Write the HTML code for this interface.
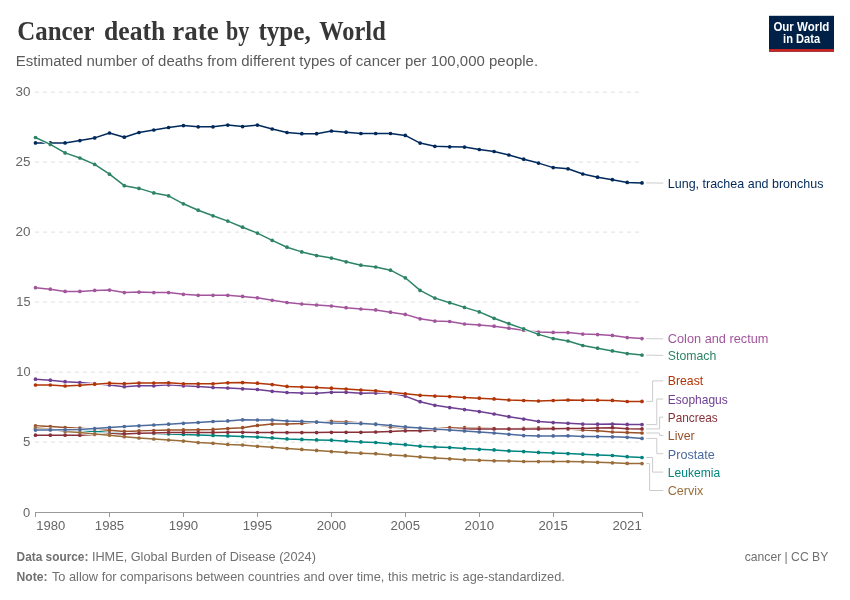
<!DOCTYPE html>
<html lang="en"><head><meta charset="utf-8"><title>Cancer death rate by type, World</title>
<style>
html,body{margin:0;padding:0;background:#fff;}
body{width:850px;height:600px;overflow:hidden;position:relative;font-family:"Liberation Sans",sans-serif;}
svg{position:absolute;left:0;top:0;}
svg text{font-family:"Liberation Sans",sans-serif;}
.title{font-family:"Liberation Serif",serif;font-weight:700;fill:#373737;}
</style></head><body>
<svg width="850" height="600" viewBox="0 0 850 600">
<rect x="0" y="0" width="850" height="600" fill="#ffffff"/>
<text class="title" y="40.2" font-size="26.5"><tspan x="17.3" textLength="76.9" lengthAdjust="spacingAndGlyphs">Cancer</tspan> <tspan x="104.1" textLength="61.2" lengthAdjust="spacingAndGlyphs">death</tspan> <tspan x="172.3" textLength="46.5" lengthAdjust="spacingAndGlyphs">rate</tspan> <tspan x="226.1" textLength="23.3" lengthAdjust="spacingAndGlyphs">by</tspan> <tspan x="258.4" textLength="52.3" lengthAdjust="spacingAndGlyphs">type,</tspan> <tspan x="319.3" textLength="66.4" lengthAdjust="spacingAndGlyphs">World</tspan></text>
<text x="15.8" y="66.3" font-size="14" fill="#5b5b5b" textLength="522.3" lengthAdjust="spacingAndGlyphs">Estimated number of deaths from different types of cancer per 100,000 people.</text>
<g><rect x="769" y="15.8" width="65" height="35.9" fill="#002147"/><rect x="769" y="49.1" width="65" height="2.6" fill="#CE261E"/><text x="801.4" y="30.8" font-size="12" font-weight="700" fill="#fff" text-anchor="middle" textLength="56" lengthAdjust="spacingAndGlyphs">Our World</text><text x="801.6" y="42.8" font-size="12" font-weight="700" fill="#fff" text-anchor="middle" textLength="37" lengthAdjust="spacingAndGlyphs">in Data</text></g>
<line x1="35" x2="642" y1="442.1" y2="442.1" stroke="#e0e0e0" stroke-width="1" stroke-dasharray="4,4"/>
<text x="23.1" y="446" font-size="12.5" fill="#666" textLength="7.4" lengthAdjust="spacingAndGlyphs">5</text>
<line x1="35" x2="642" y1="372.1" y2="372.1" stroke="#e0e0e0" stroke-width="1" stroke-dasharray="4,4"/>
<text x="16.3" y="376" font-size="12.5" fill="#666" textLength="14.2" lengthAdjust="spacingAndGlyphs">10</text>
<line x1="35" x2="642" y1="302.1" y2="302.1" stroke="#e0e0e0" stroke-width="1" stroke-dasharray="4,4"/>
<text x="16.3" y="306" font-size="12.5" fill="#666" textLength="14.2" lengthAdjust="spacingAndGlyphs">15</text>
<line x1="35" x2="642" y1="232.1" y2="232.1" stroke="#e0e0e0" stroke-width="1" stroke-dasharray="4,4"/>
<text x="15.5" y="236" font-size="12.5" fill="#666" textLength="15.0" lengthAdjust="spacingAndGlyphs">20</text>
<line x1="35" x2="642" y1="162.1" y2="162.1" stroke="#e0e0e0" stroke-width="1" stroke-dasharray="4,4"/>
<text x="15.5" y="166" font-size="12.5" fill="#666" textLength="15.0" lengthAdjust="spacingAndGlyphs">25</text>
<line x1="35" x2="642" y1="92.1" y2="92.1" stroke="#e0e0e0" stroke-width="1" stroke-dasharray="4,4"/>
<text x="15.5" y="96" font-size="12.5" fill="#666" textLength="15.0" lengthAdjust="spacingAndGlyphs">30</text>
<text x="23.1" y="516.5" font-size="12.5" fill="#666" textLength="7.2" lengthAdjust="spacingAndGlyphs">0</text>
<line x1="35" x2="642.5" y1="512.5" y2="512.5" stroke="#999" stroke-width="1"/>
<line x1="35.5" x2="35.5" y1="512.5" y2="517" stroke="#999" stroke-width="1"/>
<text x="36.3" y="530.1" font-size="12.5" fill="#666" textLength="29.0" lengthAdjust="spacingAndGlyphs">1980</text>
<line x1="109.5" x2="109.5" y1="512.5" y2="517" stroke="#999" stroke-width="1"/>
<text x="94.8" y="530.1" font-size="12.5" fill="#666" textLength="29.4" lengthAdjust="spacingAndGlyphs">1985</text>
<line x1="183.5" x2="183.5" y1="512.5" y2="517" stroke="#999" stroke-width="1"/>
<text x="168.7" y="530.1" font-size="12.5" fill="#666" textLength="29.4" lengthAdjust="spacingAndGlyphs">1990</text>
<line x1="257.5" x2="257.5" y1="512.5" y2="517" stroke="#999" stroke-width="1"/>
<text x="242.7" y="530.1" font-size="12.5" fill="#666" textLength="29.4" lengthAdjust="spacingAndGlyphs">1995</text>
<line x1="331.5" x2="331.5" y1="512.5" y2="517" stroke="#999" stroke-width="1"/>
<text x="316.7" y="530.1" font-size="12.5" fill="#666" textLength="29.4" lengthAdjust="spacingAndGlyphs">2000</text>
<line x1="405.5" x2="405.5" y1="512.5" y2="517" stroke="#999" stroke-width="1"/>
<text x="390.6" y="530.1" font-size="12.5" fill="#666" textLength="29.4" lengthAdjust="spacingAndGlyphs">2005</text>
<line x1="479.5" x2="479.5" y1="512.5" y2="517" stroke="#999" stroke-width="1"/>
<text x="464.6" y="530.1" font-size="12.5" fill="#666" textLength="29.4" lengthAdjust="spacingAndGlyphs">2010</text>
<line x1="553.5" x2="553.5" y1="512.5" y2="517" stroke="#999" stroke-width="1"/>
<text x="538.5" y="530.1" font-size="12.5" fill="#666" textLength="29.4" lengthAdjust="spacingAndGlyphs">2015</text>
<line x1="642.5" x2="642.5" y1="512.5" y2="517" stroke="#999" stroke-width="1"/>
<text x="612.4" y="530.1" font-size="12.5" fill="#666" textLength="29.4" lengthAdjust="spacingAndGlyphs">2021</text>
<g fill="#00295B" stroke="none"><polyline points="35.5,142.9 50.3,142.9 65.1,142.9 79.9,140.6 94.7,137.9 109.5,133.0 124.3,137.2 139.0,132.5 153.8,130.0 168.6,127.5 183.4,125.6 198.2,126.8 213.0,126.8 227.8,125.1 242.6,126.6 257.4,125.1 272.2,129.0 287.0,132.5 301.8,133.7 316.6,133.7 331.4,131.0 346.1,132.2 360.9,133.5 375.7,133.5 390.5,133.5 405.3,135.4 420.1,143.1 434.9,146.3 449.7,146.8 464.5,147.1 479.3,149.5 494.1,151.5 508.9,155.0 523.7,159.2 538.5,163.1 553.2,167.6 568.0,168.8 582.8,174.0 597.6,177.2 612.4,179.7 627.2,182.4 642.0,182.9" fill="none" stroke="#fff" stroke-width="3" stroke-linejoin="round" stroke-linecap="butt"/><polyline points="35.5,142.9 50.3,142.9 65.1,142.9 79.9,140.6 94.7,137.9 109.5,133.0 124.3,137.2 139.0,132.5 153.8,130.0 168.6,127.5 183.4,125.6 198.2,126.8 213.0,126.8 227.8,125.1 242.6,126.6 257.4,125.1 272.2,129.0 287.0,132.5 301.8,133.7 316.6,133.7 331.4,131.0 346.1,132.2 360.9,133.5 375.7,133.5 390.5,133.5 405.3,135.4 420.1,143.1 434.9,146.3 449.7,146.8 464.5,147.1 479.3,149.5 494.1,151.5 508.9,155.0 523.7,159.2 538.5,163.1 553.2,167.6 568.0,168.8 582.8,174.0 597.6,177.2 612.4,179.7 627.2,182.4 642.0,182.9" fill="none" stroke="#00295B" stroke-width="1.5" stroke-linejoin="round" stroke-linecap="round"/><circle cx="35.5" cy="142.9" r="1.85"/><circle cx="50.3" cy="142.9" r="1.85"/><circle cx="65.1" cy="142.9" r="1.85"/><circle cx="79.9" cy="140.6" r="1.85"/><circle cx="94.7" cy="137.9" r="1.85"/><circle cx="109.5" cy="133.0" r="1.85"/><circle cx="124.3" cy="137.2" r="1.85"/><circle cx="139.0" cy="132.5" r="1.85"/><circle cx="153.8" cy="130.0" r="1.85"/><circle cx="168.6" cy="127.5" r="1.85"/><circle cx="183.4" cy="125.6" r="1.85"/><circle cx="198.2" cy="126.8" r="1.85"/><circle cx="213.0" cy="126.8" r="1.85"/><circle cx="227.8" cy="125.1" r="1.85"/><circle cx="242.6" cy="126.6" r="1.85"/><circle cx="257.4" cy="125.1" r="1.85"/><circle cx="272.2" cy="129.0" r="1.85"/><circle cx="287.0" cy="132.5" r="1.85"/><circle cx="301.8" cy="133.7" r="1.85"/><circle cx="316.6" cy="133.7" r="1.85"/><circle cx="331.4" cy="131.0" r="1.85"/><circle cx="346.1" cy="132.2" r="1.85"/><circle cx="360.9" cy="133.5" r="1.85"/><circle cx="375.7" cy="133.5" r="1.85"/><circle cx="390.5" cy="133.5" r="1.85"/><circle cx="405.3" cy="135.4" r="1.85"/><circle cx="420.1" cy="143.1" r="1.85"/><circle cx="434.9" cy="146.3" r="1.85"/><circle cx="449.7" cy="146.8" r="1.85"/><circle cx="464.5" cy="147.1" r="1.85"/><circle cx="479.3" cy="149.5" r="1.85"/><circle cx="494.1" cy="151.5" r="1.85"/><circle cx="508.9" cy="155.0" r="1.85"/><circle cx="523.7" cy="159.2" r="1.85"/><circle cx="538.5" cy="163.1" r="1.85"/><circle cx="553.2" cy="167.6" r="1.85"/><circle cx="568.0" cy="168.8" r="1.85"/><circle cx="582.8" cy="174.0" r="1.85"/><circle cx="597.6" cy="177.2" r="1.85"/><circle cx="612.4" cy="179.7" r="1.85"/><circle cx="627.2" cy="182.4" r="1.85"/><circle cx="642.0" cy="182.9" r="1.85"/></g>
<g fill="#A2559C" stroke="none"><polyline points="35.5,287.7 50.3,289.2 65.1,291.4 79.9,291.4 94.7,290.4 109.5,290.1 124.3,292.6 139.0,292.1 153.8,292.6 168.6,292.6 183.4,294.3 198.2,295.3 213.0,295.3 227.8,295.3 242.6,296.4 257.4,297.8 272.2,300.3 287.0,302.5 301.8,304.0 316.6,305.0 331.4,306.0 346.1,307.7 360.9,309.0 375.7,309.9 390.5,312.2 405.3,314.4 420.1,318.8 434.9,321.1 449.7,321.5 464.5,324.0 479.3,325.0 494.1,326.2 508.9,328.2 523.7,330.2 538.5,332.1 553.2,332.4 568.0,332.6 582.8,334.1 597.6,334.6 612.4,335.4 627.2,337.6 642.0,338.6" fill="none" stroke="#fff" stroke-width="3" stroke-linejoin="round" stroke-linecap="butt"/><polyline points="35.5,287.7 50.3,289.2 65.1,291.4 79.9,291.4 94.7,290.4 109.5,290.1 124.3,292.6 139.0,292.1 153.8,292.6 168.6,292.6 183.4,294.3 198.2,295.3 213.0,295.3 227.8,295.3 242.6,296.4 257.4,297.8 272.2,300.3 287.0,302.5 301.8,304.0 316.6,305.0 331.4,306.0 346.1,307.7 360.9,309.0 375.7,309.9 390.5,312.2 405.3,314.4 420.1,318.8 434.9,321.1 449.7,321.5 464.5,324.0 479.3,325.0 494.1,326.2 508.9,328.2 523.7,330.2 538.5,332.1 553.2,332.4 568.0,332.6 582.8,334.1 597.6,334.6 612.4,335.4 627.2,337.6 642.0,338.6" fill="none" stroke="#A2559C" stroke-width="1.5" stroke-linejoin="round" stroke-linecap="round"/><circle cx="35.5" cy="287.7" r="1.85"/><circle cx="50.3" cy="289.2" r="1.85"/><circle cx="65.1" cy="291.4" r="1.85"/><circle cx="79.9" cy="291.4" r="1.85"/><circle cx="94.7" cy="290.4" r="1.85"/><circle cx="109.5" cy="290.1" r="1.85"/><circle cx="124.3" cy="292.6" r="1.85"/><circle cx="139.0" cy="292.1" r="1.85"/><circle cx="153.8" cy="292.6" r="1.85"/><circle cx="168.6" cy="292.6" r="1.85"/><circle cx="183.4" cy="294.3" r="1.85"/><circle cx="198.2" cy="295.3" r="1.85"/><circle cx="213.0" cy="295.3" r="1.85"/><circle cx="227.8" cy="295.3" r="1.85"/><circle cx="242.6" cy="296.4" r="1.85"/><circle cx="257.4" cy="297.8" r="1.85"/><circle cx="272.2" cy="300.3" r="1.85"/><circle cx="287.0" cy="302.5" r="1.85"/><circle cx="301.8" cy="304.0" r="1.85"/><circle cx="316.6" cy="305.0" r="1.85"/><circle cx="331.4" cy="306.0" r="1.85"/><circle cx="346.1" cy="307.7" r="1.85"/><circle cx="360.9" cy="309.0" r="1.85"/><circle cx="375.7" cy="309.9" r="1.85"/><circle cx="390.5" cy="312.2" r="1.85"/><circle cx="405.3" cy="314.4" r="1.85"/><circle cx="420.1" cy="318.8" r="1.85"/><circle cx="434.9" cy="321.1" r="1.85"/><circle cx="449.7" cy="321.5" r="1.85"/><circle cx="464.5" cy="324.0" r="1.85"/><circle cx="479.3" cy="325.0" r="1.85"/><circle cx="494.1" cy="326.2" r="1.85"/><circle cx="508.9" cy="328.2" r="1.85"/><circle cx="523.7" cy="330.2" r="1.85"/><circle cx="538.5" cy="332.1" r="1.85"/><circle cx="553.2" cy="332.4" r="1.85"/><circle cx="568.0" cy="332.6" r="1.85"/><circle cx="582.8" cy="334.1" r="1.85"/><circle cx="597.6" cy="334.6" r="1.85"/><circle cx="612.4" cy="335.4" r="1.85"/><circle cx="627.2" cy="337.6" r="1.85"/><circle cx="642.0" cy="338.6" r="1.85"/></g>
<g fill="#2C8465" stroke="none"><polyline points="35.5,137.5 50.3,144.4 65.1,152.9 79.9,158.0 94.7,164.4 109.5,174.2 124.3,185.7 139.0,188.4 153.8,192.9 168.6,195.8 183.4,203.8 198.2,210.2 213.0,215.8 227.8,221.1 242.6,227.2 257.4,233.1 272.2,240.3 287.0,247.2 301.8,251.9 316.6,255.6 331.4,258.1 346.1,261.8 360.9,265.2 375.7,267.0 390.5,270.2 405.3,277.8 420.1,290.4 434.9,298.1 449.7,302.7 464.5,307.4 479.3,311.9 494.1,318.3 508.9,323.7 523.7,328.9 538.5,334.4 553.2,338.6 568.0,341.0 582.8,345.5 597.6,348.2 612.4,350.9 627.2,353.6 642.0,355.1" fill="none" stroke="#fff" stroke-width="3" stroke-linejoin="round" stroke-linecap="butt"/><polyline points="35.5,137.5 50.3,144.4 65.1,152.9 79.9,158.0 94.7,164.4 109.5,174.2 124.3,185.7 139.0,188.4 153.8,192.9 168.6,195.8 183.4,203.8 198.2,210.2 213.0,215.8 227.8,221.1 242.6,227.2 257.4,233.1 272.2,240.3 287.0,247.2 301.8,251.9 316.6,255.6 331.4,258.1 346.1,261.8 360.9,265.2 375.7,267.0 390.5,270.2 405.3,277.8 420.1,290.4 434.9,298.1 449.7,302.7 464.5,307.4 479.3,311.9 494.1,318.3 508.9,323.7 523.7,328.9 538.5,334.4 553.2,338.6 568.0,341.0 582.8,345.5 597.6,348.2 612.4,350.9 627.2,353.6 642.0,355.1" fill="none" stroke="#2C8465" stroke-width="1.5" stroke-linejoin="round" stroke-linecap="round"/><circle cx="35.5" cy="137.5" r="1.85"/><circle cx="50.3" cy="144.4" r="1.85"/><circle cx="65.1" cy="152.9" r="1.85"/><circle cx="79.9" cy="158.0" r="1.85"/><circle cx="94.7" cy="164.4" r="1.85"/><circle cx="109.5" cy="174.2" r="1.85"/><circle cx="124.3" cy="185.7" r="1.85"/><circle cx="139.0" cy="188.4" r="1.85"/><circle cx="153.8" cy="192.9" r="1.85"/><circle cx="168.6" cy="195.8" r="1.85"/><circle cx="183.4" cy="203.8" r="1.85"/><circle cx="198.2" cy="210.2" r="1.85"/><circle cx="213.0" cy="215.8" r="1.85"/><circle cx="227.8" cy="221.1" r="1.85"/><circle cx="242.6" cy="227.2" r="1.85"/><circle cx="257.4" cy="233.1" r="1.85"/><circle cx="272.2" cy="240.3" r="1.85"/><circle cx="287.0" cy="247.2" r="1.85"/><circle cx="301.8" cy="251.9" r="1.85"/><circle cx="316.6" cy="255.6" r="1.85"/><circle cx="331.4" cy="258.1" r="1.85"/><circle cx="346.1" cy="261.8" r="1.85"/><circle cx="360.9" cy="265.2" r="1.85"/><circle cx="375.7" cy="267.0" r="1.85"/><circle cx="390.5" cy="270.2" r="1.85"/><circle cx="405.3" cy="277.8" r="1.85"/><circle cx="420.1" cy="290.4" r="1.85"/><circle cx="434.9" cy="298.1" r="1.85"/><circle cx="449.7" cy="302.7" r="1.85"/><circle cx="464.5" cy="307.4" r="1.85"/><circle cx="479.3" cy="311.9" r="1.85"/><circle cx="494.1" cy="318.3" r="1.85"/><circle cx="508.9" cy="323.7" r="1.85"/><circle cx="523.7" cy="328.9" r="1.85"/><circle cx="538.5" cy="334.4" r="1.85"/><circle cx="553.2" cy="338.6" r="1.85"/><circle cx="568.0" cy="341.0" r="1.85"/><circle cx="582.8" cy="345.5" r="1.85"/><circle cx="597.6" cy="348.2" r="1.85"/><circle cx="612.4" cy="350.9" r="1.85"/><circle cx="627.2" cy="353.6" r="1.85"/><circle cx="642.0" cy="355.1" r="1.85"/></g>
<g fill="#6D3E91" stroke="none"><polyline points="35.5,379.2 50.3,380.2 65.1,381.7 79.9,382.5 94.7,383.7 109.5,385.0 124.3,386.7 139.0,385.8 153.8,385.8 168.6,384.8 183.4,385.8 198.2,386.5 213.0,387.5 227.8,388.0 242.6,388.8 257.4,389.5 272.2,391.3 287.0,392.5 301.8,393.1 316.6,393.3 331.4,392.3 346.1,392.3 360.9,393.3 375.7,393.1 390.5,393.1 405.3,396.1 420.1,401.7 434.9,405.3 449.7,407.6 464.5,409.6 479.3,411.6 494.1,414.0 508.9,416.7 523.7,419.1 538.5,421.4 553.2,422.6 568.0,423.3 582.8,424.1 597.6,424.2 612.4,424.1 627.2,424.4 642.0,424.6" fill="none" stroke="#fff" stroke-width="3" stroke-linejoin="round" stroke-linecap="butt"/><polyline points="35.5,379.2 50.3,380.2 65.1,381.7 79.9,382.5 94.7,383.7 109.5,385.0 124.3,386.7 139.0,385.8 153.8,385.8 168.6,384.8 183.4,385.8 198.2,386.5 213.0,387.5 227.8,388.0 242.6,388.8 257.4,389.5 272.2,391.3 287.0,392.5 301.8,393.1 316.6,393.3 331.4,392.3 346.1,392.3 360.9,393.3 375.7,393.1 390.5,393.1 405.3,396.1 420.1,401.7 434.9,405.3 449.7,407.6 464.5,409.6 479.3,411.6 494.1,414.0 508.9,416.7 523.7,419.1 538.5,421.4 553.2,422.6 568.0,423.3 582.8,424.1 597.6,424.2 612.4,424.1 627.2,424.4 642.0,424.6" fill="none" stroke="#6D3E91" stroke-width="1.5" stroke-linejoin="round" stroke-linecap="round"/><circle cx="35.5" cy="379.2" r="1.85"/><circle cx="50.3" cy="380.2" r="1.85"/><circle cx="65.1" cy="381.7" r="1.85"/><circle cx="79.9" cy="382.5" r="1.85"/><circle cx="94.7" cy="383.7" r="1.85"/><circle cx="109.5" cy="385.0" r="1.85"/><circle cx="124.3" cy="386.7" r="1.85"/><circle cx="139.0" cy="385.8" r="1.85"/><circle cx="153.8" cy="385.8" r="1.85"/><circle cx="168.6" cy="384.8" r="1.85"/><circle cx="183.4" cy="385.8" r="1.85"/><circle cx="198.2" cy="386.5" r="1.85"/><circle cx="213.0" cy="387.5" r="1.85"/><circle cx="227.8" cy="388.0" r="1.85"/><circle cx="242.6" cy="388.8" r="1.85"/><circle cx="257.4" cy="389.5" r="1.85"/><circle cx="272.2" cy="391.3" r="1.85"/><circle cx="287.0" cy="392.5" r="1.85"/><circle cx="301.8" cy="393.1" r="1.85"/><circle cx="316.6" cy="393.3" r="1.85"/><circle cx="331.4" cy="392.3" r="1.85"/><circle cx="346.1" cy="392.3" r="1.85"/><circle cx="360.9" cy="393.3" r="1.85"/><circle cx="375.7" cy="393.1" r="1.85"/><circle cx="390.5" cy="393.1" r="1.85"/><circle cx="405.3" cy="396.1" r="1.85"/><circle cx="420.1" cy="401.7" r="1.85"/><circle cx="434.9" cy="405.3" r="1.85"/><circle cx="449.7" cy="407.6" r="1.85"/><circle cx="464.5" cy="409.6" r="1.85"/><circle cx="479.3" cy="411.6" r="1.85"/><circle cx="494.1" cy="414.0" r="1.85"/><circle cx="508.9" cy="416.7" r="1.85"/><circle cx="523.7" cy="419.1" r="1.85"/><circle cx="538.5" cy="421.4" r="1.85"/><circle cx="553.2" cy="422.6" r="1.85"/><circle cx="568.0" cy="423.3" r="1.85"/><circle cx="582.8" cy="424.1" r="1.85"/><circle cx="597.6" cy="424.2" r="1.85"/><circle cx="612.4" cy="424.1" r="1.85"/><circle cx="627.2" cy="424.4" r="1.85"/><circle cx="642.0" cy="424.6" r="1.85"/></g>
<g fill="#B13507" stroke="none"><polyline points="35.5,385.0 50.3,385.0 65.1,386.0 79.9,385.3 94.7,384.2 109.5,383.2 124.3,383.7 139.0,383.0 153.8,383.0 168.6,382.8 183.4,383.8 198.2,383.8 213.0,383.8 227.8,382.8 242.6,382.6 257.4,383.2 272.2,384.6 287.0,386.4 301.8,387.0 316.6,387.4 331.4,388.2 346.1,389.0 360.9,390.0 375.7,390.8 390.5,392.3 405.3,393.8 420.1,395.3 434.9,396.1 449.7,396.6 464.5,397.6 479.3,398.2 494.1,398.9 508.9,400.0 523.7,400.5 538.5,401.0 553.2,400.5 568.0,400.0 582.8,400.2 597.6,400.2 612.4,400.4 627.2,401.5 642.0,401.4" fill="none" stroke="#fff" stroke-width="3" stroke-linejoin="round" stroke-linecap="butt"/><polyline points="35.5,385.0 50.3,385.0 65.1,386.0 79.9,385.3 94.7,384.2 109.5,383.2 124.3,383.7 139.0,383.0 153.8,383.0 168.6,382.8 183.4,383.8 198.2,383.8 213.0,383.8 227.8,382.8 242.6,382.6 257.4,383.2 272.2,384.6 287.0,386.4 301.8,387.0 316.6,387.4 331.4,388.2 346.1,389.0 360.9,390.0 375.7,390.8 390.5,392.3 405.3,393.8 420.1,395.3 434.9,396.1 449.7,396.6 464.5,397.6 479.3,398.2 494.1,398.9 508.9,400.0 523.7,400.5 538.5,401.0 553.2,400.5 568.0,400.0 582.8,400.2 597.6,400.2 612.4,400.4 627.2,401.5 642.0,401.4" fill="none" stroke="#B13507" stroke-width="1.5" stroke-linejoin="round" stroke-linecap="round"/><circle cx="35.5" cy="385.0" r="1.85"/><circle cx="50.3" cy="385.0" r="1.85"/><circle cx="65.1" cy="386.0" r="1.85"/><circle cx="79.9" cy="385.3" r="1.85"/><circle cx="94.7" cy="384.2" r="1.85"/><circle cx="109.5" cy="383.2" r="1.85"/><circle cx="124.3" cy="383.7" r="1.85"/><circle cx="139.0" cy="383.0" r="1.85"/><circle cx="153.8" cy="383.0" r="1.85"/><circle cx="168.6" cy="382.8" r="1.85"/><circle cx="183.4" cy="383.8" r="1.85"/><circle cx="198.2" cy="383.8" r="1.85"/><circle cx="213.0" cy="383.8" r="1.85"/><circle cx="227.8" cy="382.8" r="1.85"/><circle cx="242.6" cy="382.6" r="1.85"/><circle cx="257.4" cy="383.2" r="1.85"/><circle cx="272.2" cy="384.6" r="1.85"/><circle cx="287.0" cy="386.4" r="1.85"/><circle cx="301.8" cy="387.0" r="1.85"/><circle cx="316.6" cy="387.4" r="1.85"/><circle cx="331.4" cy="388.2" r="1.85"/><circle cx="346.1" cy="389.0" r="1.85"/><circle cx="360.9" cy="390.0" r="1.85"/><circle cx="375.7" cy="390.8" r="1.85"/><circle cx="390.5" cy="392.3" r="1.85"/><circle cx="405.3" cy="393.8" r="1.85"/><circle cx="420.1" cy="395.3" r="1.85"/><circle cx="434.9" cy="396.1" r="1.85"/><circle cx="449.7" cy="396.6" r="1.85"/><circle cx="464.5" cy="397.6" r="1.85"/><circle cx="479.3" cy="398.2" r="1.85"/><circle cx="494.1" cy="398.9" r="1.85"/><circle cx="508.9" cy="400.0" r="1.85"/><circle cx="523.7" cy="400.5" r="1.85"/><circle cx="538.5" cy="401.0" r="1.85"/><circle cx="553.2" cy="400.5" r="1.85"/><circle cx="568.0" cy="400.0" r="1.85"/><circle cx="582.8" cy="400.2" r="1.85"/><circle cx="597.6" cy="400.2" r="1.85"/><circle cx="612.4" cy="400.4" r="1.85"/><circle cx="627.2" cy="401.5" r="1.85"/><circle cx="642.0" cy="401.4" r="1.85"/></g>
<g fill="#00847E" stroke="none"><polyline points="35.5,429.1 50.3,429.5 65.1,430.1 79.9,430.9 94.7,431.5 109.5,432.1 124.3,433.1 139.0,433.1 153.8,433.4 168.6,433.9 183.4,434.5 198.2,435.0 213.0,435.4 227.8,435.9 242.6,436.6 257.4,437.1 272.2,437.9 287.0,438.9 301.8,439.4 316.6,439.9 331.4,440.2 346.1,441.2 360.9,441.9 375.7,442.5 390.5,443.7 405.3,444.7 420.1,446.2 434.9,447.0 449.7,447.6 464.5,448.5 479.3,449.3 494.1,449.9 508.9,450.9 523.7,451.6 538.5,452.4 553.2,452.9 568.0,453.6 582.8,454.2 597.6,454.9 612.4,455.5 627.2,456.7 642.0,457.5" fill="none" stroke="#fff" stroke-width="3" stroke-linejoin="round" stroke-linecap="butt"/><polyline points="35.5,429.1 50.3,429.5 65.1,430.1 79.9,430.9 94.7,431.5 109.5,432.1 124.3,433.1 139.0,433.1 153.8,433.4 168.6,433.9 183.4,434.5 198.2,435.0 213.0,435.4 227.8,435.9 242.6,436.6 257.4,437.1 272.2,437.9 287.0,438.9 301.8,439.4 316.6,439.9 331.4,440.2 346.1,441.2 360.9,441.9 375.7,442.5 390.5,443.7 405.3,444.7 420.1,446.2 434.9,447.0 449.7,447.6 464.5,448.5 479.3,449.3 494.1,449.9 508.9,450.9 523.7,451.6 538.5,452.4 553.2,452.9 568.0,453.6 582.8,454.2 597.6,454.9 612.4,455.5 627.2,456.7 642.0,457.5" fill="none" stroke="#00847E" stroke-width="1.5" stroke-linejoin="round" stroke-linecap="round"/><circle cx="35.5" cy="429.1" r="1.85"/><circle cx="50.3" cy="429.5" r="1.85"/><circle cx="65.1" cy="430.1" r="1.85"/><circle cx="79.9" cy="430.9" r="1.85"/><circle cx="94.7" cy="431.5" r="1.85"/><circle cx="109.5" cy="432.1" r="1.85"/><circle cx="124.3" cy="433.1" r="1.85"/><circle cx="139.0" cy="433.1" r="1.85"/><circle cx="153.8" cy="433.4" r="1.85"/><circle cx="168.6" cy="433.9" r="1.85"/><circle cx="183.4" cy="434.5" r="1.85"/><circle cx="198.2" cy="435.0" r="1.85"/><circle cx="213.0" cy="435.4" r="1.85"/><circle cx="227.8" cy="435.9" r="1.85"/><circle cx="242.6" cy="436.6" r="1.85"/><circle cx="257.4" cy="437.1" r="1.85"/><circle cx="272.2" cy="437.9" r="1.85"/><circle cx="287.0" cy="438.9" r="1.85"/><circle cx="301.8" cy="439.4" r="1.85"/><circle cx="316.6" cy="439.9" r="1.85"/><circle cx="331.4" cy="440.2" r="1.85"/><circle cx="346.1" cy="441.2" r="1.85"/><circle cx="360.9" cy="441.9" r="1.85"/><circle cx="375.7" cy="442.5" r="1.85"/><circle cx="390.5" cy="443.7" r="1.85"/><circle cx="405.3" cy="444.7" r="1.85"/><circle cx="420.1" cy="446.2" r="1.85"/><circle cx="434.9" cy="447.0" r="1.85"/><circle cx="449.7" cy="447.6" r="1.85"/><circle cx="464.5" cy="448.5" r="1.85"/><circle cx="479.3" cy="449.3" r="1.85"/><circle cx="494.1" cy="449.9" r="1.85"/><circle cx="508.9" cy="450.9" r="1.85"/><circle cx="523.7" cy="451.6" r="1.85"/><circle cx="538.5" cy="452.4" r="1.85"/><circle cx="553.2" cy="452.9" r="1.85"/><circle cx="568.0" cy="453.6" r="1.85"/><circle cx="582.8" cy="454.2" r="1.85"/><circle cx="597.6" cy="454.9" r="1.85"/><circle cx="612.4" cy="455.5" r="1.85"/><circle cx="627.2" cy="456.7" r="1.85"/><circle cx="642.0" cy="457.5" r="1.85"/></g>
<g fill="#9A5129" stroke="none"><polyline points="35.5,425.8 50.3,426.6 65.1,427.5 79.9,428.2 94.7,429.1 109.5,430.3 124.3,431.4 139.0,430.9 153.8,430.6 168.6,430.1 183.4,429.9 198.2,429.8 213.0,429.4 227.8,428.6 242.6,427.7 257.4,425.4 272.2,424.1 287.0,424.1 301.8,423.4 316.6,421.9 331.4,421.4 346.1,421.8 360.9,423.1 375.7,424.4 390.5,426.9 405.3,428.0 420.1,428.5 434.9,428.7 449.7,427.7 464.5,427.7 479.3,427.9 494.1,428.5 508.9,428.7 523.7,428.4 538.5,427.9 553.2,428.0 568.0,429.0 582.8,430.0 597.6,430.7 612.4,432.0 627.2,432.6 642.0,433.0" fill="none" stroke="#fff" stroke-width="3" stroke-linejoin="round" stroke-linecap="butt"/><polyline points="35.5,425.8 50.3,426.6 65.1,427.5 79.9,428.2 94.7,429.1 109.5,430.3 124.3,431.4 139.0,430.9 153.8,430.6 168.6,430.1 183.4,429.9 198.2,429.8 213.0,429.4 227.8,428.6 242.6,427.7 257.4,425.4 272.2,424.1 287.0,424.1 301.8,423.4 316.6,421.9 331.4,421.4 346.1,421.8 360.9,423.1 375.7,424.4 390.5,426.9 405.3,428.0 420.1,428.5 434.9,428.7 449.7,427.7 464.5,427.7 479.3,427.9 494.1,428.5 508.9,428.7 523.7,428.4 538.5,427.9 553.2,428.0 568.0,429.0 582.8,430.0 597.6,430.7 612.4,432.0 627.2,432.6 642.0,433.0" fill="none" stroke="#9A5129" stroke-width="1.5" stroke-linejoin="round" stroke-linecap="round"/><circle cx="35.5" cy="425.8" r="1.85"/><circle cx="50.3" cy="426.6" r="1.85"/><circle cx="65.1" cy="427.5" r="1.85"/><circle cx="79.9" cy="428.2" r="1.85"/><circle cx="94.7" cy="429.1" r="1.85"/><circle cx="109.5" cy="430.3" r="1.85"/><circle cx="124.3" cy="431.4" r="1.85"/><circle cx="139.0" cy="430.9" r="1.85"/><circle cx="153.8" cy="430.6" r="1.85"/><circle cx="168.6" cy="430.1" r="1.85"/><circle cx="183.4" cy="429.9" r="1.85"/><circle cx="198.2" cy="429.8" r="1.85"/><circle cx="213.0" cy="429.4" r="1.85"/><circle cx="227.8" cy="428.6" r="1.85"/><circle cx="242.6" cy="427.7" r="1.85"/><circle cx="257.4" cy="425.4" r="1.85"/><circle cx="272.2" cy="424.1" r="1.85"/><circle cx="287.0" cy="424.1" r="1.85"/><circle cx="301.8" cy="423.4" r="1.85"/><circle cx="316.6" cy="421.9" r="1.85"/><circle cx="331.4" cy="421.4" r="1.85"/><circle cx="346.1" cy="421.8" r="1.85"/><circle cx="360.9" cy="423.1" r="1.85"/><circle cx="375.7" cy="424.4" r="1.85"/><circle cx="390.5" cy="426.9" r="1.85"/><circle cx="405.3" cy="428.0" r="1.85"/><circle cx="420.1" cy="428.5" r="1.85"/><circle cx="434.9" cy="428.7" r="1.85"/><circle cx="449.7" cy="427.7" r="1.85"/><circle cx="464.5" cy="427.7" r="1.85"/><circle cx="479.3" cy="427.9" r="1.85"/><circle cx="494.1" cy="428.5" r="1.85"/><circle cx="508.9" cy="428.7" r="1.85"/><circle cx="523.7" cy="428.4" r="1.85"/><circle cx="538.5" cy="427.9" r="1.85"/><circle cx="553.2" cy="428.0" r="1.85"/><circle cx="568.0" cy="429.0" r="1.85"/><circle cx="582.8" cy="430.0" r="1.85"/><circle cx="597.6" cy="430.7" r="1.85"/><circle cx="612.4" cy="432.0" r="1.85"/><circle cx="627.2" cy="432.6" r="1.85"/><circle cx="642.0" cy="433.0" r="1.85"/></g>
<g fill="#883039" stroke="none"><polyline points="35.5,435.2 50.3,435.2 65.1,435.2 79.9,435.2 94.7,434.4 109.5,433.8 124.3,433.9 139.0,433.2 153.8,432.9 168.6,432.6 183.4,432.6 198.2,432.6 213.0,432.4 227.8,432.3 242.6,432.3 257.4,432.5 272.2,432.6 287.0,432.6 301.8,432.6 316.6,432.6 331.4,432.3 346.1,432.3 360.9,432.3 375.7,432.0 390.5,431.5 405.3,430.8 420.1,430.8 434.9,430.3 449.7,429.4 464.5,429.0 479.3,429.0 494.1,428.9 508.9,429.0 523.7,429.0 538.5,428.9 553.2,428.7 568.0,428.5 582.8,428.4 597.6,428.0 612.4,427.7 627.2,428.7 642.0,428.9" fill="none" stroke="#fff" stroke-width="3" stroke-linejoin="round" stroke-linecap="butt"/><polyline points="35.5,435.2 50.3,435.2 65.1,435.2 79.9,435.2 94.7,434.4 109.5,433.8 124.3,433.9 139.0,433.2 153.8,432.9 168.6,432.6 183.4,432.6 198.2,432.6 213.0,432.4 227.8,432.3 242.6,432.3 257.4,432.5 272.2,432.6 287.0,432.6 301.8,432.6 316.6,432.6 331.4,432.3 346.1,432.3 360.9,432.3 375.7,432.0 390.5,431.5 405.3,430.8 420.1,430.8 434.9,430.3 449.7,429.4 464.5,429.0 479.3,429.0 494.1,428.9 508.9,429.0 523.7,429.0 538.5,428.9 553.2,428.7 568.0,428.5 582.8,428.4 597.6,428.0 612.4,427.7 627.2,428.7 642.0,428.9" fill="none" stroke="#883039" stroke-width="1.5" stroke-linejoin="round" stroke-linecap="round"/><circle cx="35.5" cy="435.2" r="1.85"/><circle cx="50.3" cy="435.2" r="1.85"/><circle cx="65.1" cy="435.2" r="1.85"/><circle cx="79.9" cy="435.2" r="1.85"/><circle cx="94.7" cy="434.4" r="1.85"/><circle cx="109.5" cy="433.8" r="1.85"/><circle cx="124.3" cy="433.9" r="1.85"/><circle cx="139.0" cy="433.2" r="1.85"/><circle cx="153.8" cy="432.9" r="1.85"/><circle cx="168.6" cy="432.6" r="1.85"/><circle cx="183.4" cy="432.6" r="1.85"/><circle cx="198.2" cy="432.6" r="1.85"/><circle cx="213.0" cy="432.4" r="1.85"/><circle cx="227.8" cy="432.3" r="1.85"/><circle cx="242.6" cy="432.3" r="1.85"/><circle cx="257.4" cy="432.5" r="1.85"/><circle cx="272.2" cy="432.6" r="1.85"/><circle cx="287.0" cy="432.6" r="1.85"/><circle cx="301.8" cy="432.6" r="1.85"/><circle cx="316.6" cy="432.6" r="1.85"/><circle cx="331.4" cy="432.3" r="1.85"/><circle cx="346.1" cy="432.3" r="1.85"/><circle cx="360.9" cy="432.3" r="1.85"/><circle cx="375.7" cy="432.0" r="1.85"/><circle cx="390.5" cy="431.5" r="1.85"/><circle cx="405.3" cy="430.8" r="1.85"/><circle cx="420.1" cy="430.8" r="1.85"/><circle cx="434.9" cy="430.3" r="1.85"/><circle cx="449.7" cy="429.4" r="1.85"/><circle cx="464.5" cy="429.0" r="1.85"/><circle cx="479.3" cy="429.0" r="1.85"/><circle cx="494.1" cy="428.9" r="1.85"/><circle cx="508.9" cy="429.0" r="1.85"/><circle cx="523.7" cy="429.0" r="1.85"/><circle cx="538.5" cy="428.9" r="1.85"/><circle cx="553.2" cy="428.7" r="1.85"/><circle cx="568.0" cy="428.5" r="1.85"/><circle cx="582.8" cy="428.4" r="1.85"/><circle cx="597.6" cy="428.0" r="1.85"/><circle cx="612.4" cy="427.7" r="1.85"/><circle cx="627.2" cy="428.7" r="1.85"/><circle cx="642.0" cy="428.9" r="1.85"/></g>
<g fill="#996D39" stroke="none"><polyline points="35.5,427.9 50.3,429.1 65.1,431.5 79.9,432.6 94.7,434.1 109.5,435.2 124.3,436.7 139.0,438.0 153.8,439.0 168.6,440.0 183.4,441.1 198.2,442.6 213.0,443.3 227.8,444.4 242.6,445.0 257.4,446.3 272.2,447.3 287.0,448.5 301.8,449.4 316.6,450.4 331.4,451.6 346.1,452.4 360.9,453.2 375.7,453.7 390.5,454.9 405.3,455.7 420.1,456.9 434.9,458.0 449.7,458.8 464.5,459.8 479.3,460.3 494.1,460.8 508.9,461.0 523.7,461.5 538.5,461.6 553.2,461.5 568.0,461.5 582.8,461.8 597.6,462.3 612.4,462.8 627.2,463.4 642.0,463.6" fill="none" stroke="#fff" stroke-width="3" stroke-linejoin="round" stroke-linecap="butt"/><polyline points="35.5,427.9 50.3,429.1 65.1,431.5 79.9,432.6 94.7,434.1 109.5,435.2 124.3,436.7 139.0,438.0 153.8,439.0 168.6,440.0 183.4,441.1 198.2,442.6 213.0,443.3 227.8,444.4 242.6,445.0 257.4,446.3 272.2,447.3 287.0,448.5 301.8,449.4 316.6,450.4 331.4,451.6 346.1,452.4 360.9,453.2 375.7,453.7 390.5,454.9 405.3,455.7 420.1,456.9 434.9,458.0 449.7,458.8 464.5,459.8 479.3,460.3 494.1,460.8 508.9,461.0 523.7,461.5 538.5,461.6 553.2,461.5 568.0,461.5 582.8,461.8 597.6,462.3 612.4,462.8 627.2,463.4 642.0,463.6" fill="none" stroke="#996D39" stroke-width="1.5" stroke-linejoin="round" stroke-linecap="round"/><circle cx="35.5" cy="427.9" r="1.85"/><circle cx="50.3" cy="429.1" r="1.85"/><circle cx="65.1" cy="431.5" r="1.85"/><circle cx="79.9" cy="432.6" r="1.85"/><circle cx="94.7" cy="434.1" r="1.85"/><circle cx="109.5" cy="435.2" r="1.85"/><circle cx="124.3" cy="436.7" r="1.85"/><circle cx="139.0" cy="438.0" r="1.85"/><circle cx="153.8" cy="439.0" r="1.85"/><circle cx="168.6" cy="440.0" r="1.85"/><circle cx="183.4" cy="441.1" r="1.85"/><circle cx="198.2" cy="442.6" r="1.85"/><circle cx="213.0" cy="443.3" r="1.85"/><circle cx="227.8" cy="444.4" r="1.85"/><circle cx="242.6" cy="445.0" r="1.85"/><circle cx="257.4" cy="446.3" r="1.85"/><circle cx="272.2" cy="447.3" r="1.85"/><circle cx="287.0" cy="448.5" r="1.85"/><circle cx="301.8" cy="449.4" r="1.85"/><circle cx="316.6" cy="450.4" r="1.85"/><circle cx="331.4" cy="451.6" r="1.85"/><circle cx="346.1" cy="452.4" r="1.85"/><circle cx="360.9" cy="453.2" r="1.85"/><circle cx="375.7" cy="453.7" r="1.85"/><circle cx="390.5" cy="454.9" r="1.85"/><circle cx="405.3" cy="455.7" r="1.85"/><circle cx="420.1" cy="456.9" r="1.85"/><circle cx="434.9" cy="458.0" r="1.85"/><circle cx="449.7" cy="458.8" r="1.85"/><circle cx="464.5" cy="459.8" r="1.85"/><circle cx="479.3" cy="460.3" r="1.85"/><circle cx="494.1" cy="460.8" r="1.85"/><circle cx="508.9" cy="461.0" r="1.85"/><circle cx="523.7" cy="461.5" r="1.85"/><circle cx="538.5" cy="461.6" r="1.85"/><circle cx="553.2" cy="461.5" r="1.85"/><circle cx="568.0" cy="461.5" r="1.85"/><circle cx="582.8" cy="461.8" r="1.85"/><circle cx="597.6" cy="462.3" r="1.85"/><circle cx="612.4" cy="462.8" r="1.85"/><circle cx="627.2" cy="463.4" r="1.85"/><circle cx="642.0" cy="463.6" r="1.85"/></g>
<g fill="#4C6A9C" stroke="none"><polyline points="35.5,430.1 50.3,429.9 65.1,429.8 79.9,429.4 94.7,428.5 109.5,427.5 124.3,426.5 139.0,425.8 153.8,425.0 168.6,424.2 183.4,423.3 198.2,422.5 213.0,421.5 227.8,420.9 242.6,419.8 257.4,420.0 272.2,420.1 287.0,421.0 301.8,421.4 316.6,422.1 331.4,422.9 346.1,423.3 360.9,423.6 375.7,424.2 390.5,425.6 405.3,426.9 420.1,428.0 434.9,429.0 449.7,430.0 464.5,431.0 479.3,432.0 494.1,433.0 508.9,434.3 523.7,435.6 538.5,435.9 553.2,435.9 568.0,435.8 582.8,436.4 597.6,436.6 612.4,436.8 627.2,437.3 642.0,438.4" fill="none" stroke="#fff" stroke-width="3" stroke-linejoin="round" stroke-linecap="butt"/><polyline points="35.5,430.1 50.3,429.9 65.1,429.8 79.9,429.4 94.7,428.5 109.5,427.5 124.3,426.5 139.0,425.8 153.8,425.0 168.6,424.2 183.4,423.3 198.2,422.5 213.0,421.5 227.8,420.9 242.6,419.8 257.4,420.0 272.2,420.1 287.0,421.0 301.8,421.4 316.6,422.1 331.4,422.9 346.1,423.3 360.9,423.6 375.7,424.2 390.5,425.6 405.3,426.9 420.1,428.0 434.9,429.0 449.7,430.0 464.5,431.0 479.3,432.0 494.1,433.0 508.9,434.3 523.7,435.6 538.5,435.9 553.2,435.9 568.0,435.8 582.8,436.4 597.6,436.6 612.4,436.8 627.2,437.3 642.0,438.4" fill="none" stroke="#4C6A9C" stroke-width="1.5" stroke-linejoin="round" stroke-linecap="round"/><circle cx="35.5" cy="430.1" r="1.85"/><circle cx="50.3" cy="429.9" r="1.85"/><circle cx="65.1" cy="429.8" r="1.85"/><circle cx="79.9" cy="429.4" r="1.85"/><circle cx="94.7" cy="428.5" r="1.85"/><circle cx="109.5" cy="427.5" r="1.85"/><circle cx="124.3" cy="426.5" r="1.85"/><circle cx="139.0" cy="425.8" r="1.85"/><circle cx="153.8" cy="425.0" r="1.85"/><circle cx="168.6" cy="424.2" r="1.85"/><circle cx="183.4" cy="423.3" r="1.85"/><circle cx="198.2" cy="422.5" r="1.85"/><circle cx="213.0" cy="421.5" r="1.85"/><circle cx="227.8" cy="420.9" r="1.85"/><circle cx="242.6" cy="419.8" r="1.85"/><circle cx="257.4" cy="420.0" r="1.85"/><circle cx="272.2" cy="420.1" r="1.85"/><circle cx="287.0" cy="421.0" r="1.85"/><circle cx="301.8" cy="421.4" r="1.85"/><circle cx="316.6" cy="422.1" r="1.85"/><circle cx="331.4" cy="422.9" r="1.85"/><circle cx="346.1" cy="423.3" r="1.85"/><circle cx="360.9" cy="423.6" r="1.85"/><circle cx="375.7" cy="424.2" r="1.85"/><circle cx="390.5" cy="425.6" r="1.85"/><circle cx="405.3" cy="426.9" r="1.85"/><circle cx="420.1" cy="428.0" r="1.85"/><circle cx="434.9" cy="429.0" r="1.85"/><circle cx="449.7" cy="430.0" r="1.85"/><circle cx="464.5" cy="431.0" r="1.85"/><circle cx="479.3" cy="432.0" r="1.85"/><circle cx="494.1" cy="433.0" r="1.85"/><circle cx="508.9" cy="434.3" r="1.85"/><circle cx="523.7" cy="435.6" r="1.85"/><circle cx="538.5" cy="435.9" r="1.85"/><circle cx="553.2" cy="435.9" r="1.85"/><circle cx="568.0" cy="435.8" r="1.85"/><circle cx="582.8" cy="436.4" r="1.85"/><circle cx="597.6" cy="436.6" r="1.85"/><circle cx="612.4" cy="436.8" r="1.85"/><circle cx="627.2" cy="437.3" r="1.85"/><circle cx="642.0" cy="438.4" r="1.85"/></g>
<path d="M646.3,182.9 L663.2,183.1" fill="none" stroke="#ccc" stroke-width="1"/><text x="667.8" y="187.7" font-size="12.6" fill="#00295B" textLength="155.6" lengthAdjust="spacingAndGlyphs">Lung, trachea and bronchus</text>
<path d="M646.3,338.6 L663.2,338.9" fill="none" stroke="#ccc" stroke-width="1"/><text x="667.8" y="343.3" font-size="12.6" fill="#A2559C" textLength="100.6" lengthAdjust="spacingAndGlyphs">Colon and rectum</text>
<path d="M646.3,355.1 L663.2,355.4" fill="none" stroke="#ccc" stroke-width="1"/><text x="667.8" y="359.8" font-size="12.6" fill="#2C8465" textLength="48.5" lengthAdjust="spacingAndGlyphs">Stomach</text>
<path d="M646.3,424.6 H656.8 V399.0 H663.2" fill="none" stroke="#ccc" stroke-width="1"/><text x="667.8" y="403.6" font-size="12.6" fill="#6D3E91" textLength="60.0" lengthAdjust="spacingAndGlyphs">Esophagus</text>
<path d="M646.3,401.4 H652.6 V380.9 H663.2" fill="none" stroke="#ccc" stroke-width="1"/><text x="667.8" y="385.3" font-size="12.6" fill="#B13507" textLength="35.4" lengthAdjust="spacingAndGlyphs">Breast</text>
<path d="M646.3,457.5 H652.6 V472.1 H663.2" fill="none" stroke="#ccc" stroke-width="1"/><text x="667.8" y="476.8" font-size="12.6" fill="#00847E" textLength="52.3" lengthAdjust="spacingAndGlyphs">Leukemia</text>
<path d="M646.3,433.0 H659.6 V435.5 H663.2" fill="none" stroke="#ccc" stroke-width="1"/><text x="667.8" y="440.2" font-size="12.6" fill="#9A5129" textLength="26.9" lengthAdjust="spacingAndGlyphs">Liver</text>
<path d="M646.3,428.9 H659.6 V417.2 H663.2" fill="none" stroke="#ccc" stroke-width="1"/><text x="667.8" y="421.9" font-size="12.6" fill="#883039" textLength="50.0" lengthAdjust="spacingAndGlyphs">Pancreas</text>
<path d="M646.3,463.6 H649.6 V490.5 H663.2" fill="none" stroke="#ccc" stroke-width="1"/><text x="667.8" y="495.1" font-size="12.6" fill="#996D39" textLength="35.6" lengthAdjust="spacingAndGlyphs">Cervix</text>
<path d="M646.3,438.4 H656.8 V453.7 H663.2" fill="none" stroke="#ccc" stroke-width="1"/><text x="667.8" y="458.5" font-size="12.6" fill="#4C6A9C" textLength="46.9" lengthAdjust="spacingAndGlyphs">Prostate</text>
<text x="16.6" y="560.7" font-size="12.6" font-weight="700" fill="#707070" textLength="71.8" lengthAdjust="spacingAndGlyphs">Data source:</text><text x="91.9" y="560.7" font-size="12.6" fill="#707070" textLength="224" lengthAdjust="spacingAndGlyphs">IHME, Global Burden of Disease (2024)</text>
<text x="744.7" y="560.7" font-size="12.6" fill="#707070" textLength="83.6" lengthAdjust="spacingAndGlyphs">cancer | CC BY</text>
<text x="16.6" y="581" font-size="12.6" font-weight="700" fill="#707070" textLength="31" lengthAdjust="spacingAndGlyphs">Note:</text><text x="51.9" y="581" font-size="12.6" fill="#707070" textLength="513" lengthAdjust="spacingAndGlyphs">To allow for comparisons between countries and over time, this metric is age-standardized.</text>
</svg></body></html>
